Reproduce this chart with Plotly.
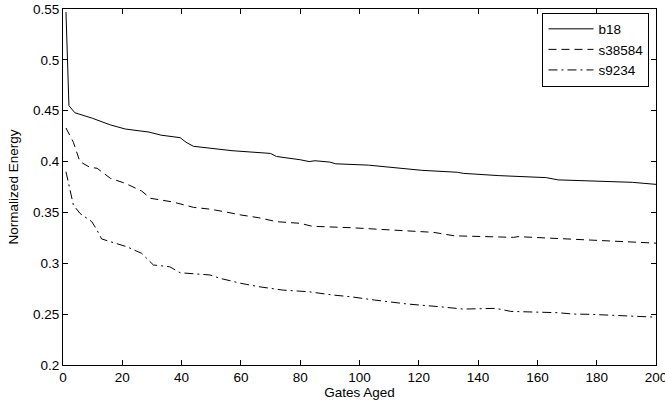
import plotly.graph_objects as go

# ---- data ----
b18_x = [1, 2, 4, 10, 16, 21, 29, 33, 39.5, 41.5, 44, 49, 57, 70, 72, 80, 83, 85, 90, 92,
         97, 103, 121, 133, 135, 147, 163, 167, 192, 200]
b18_y = [0.547, 0.455, 0.448, 0.4425, 0.436, 0.432, 0.429, 0.426, 0.4235, 0.419, 0.415, 0.4135,
         0.4107, 0.408, 0.405, 0.4018, 0.4, 0.4008, 0.3995, 0.3978, 0.397, 0.3965, 0.3914,
         0.3895, 0.3884, 0.3862, 0.3842, 0.382, 0.3796, 0.3776]

s38584_x = [1, 3.5, 5.7, 9, 11.5, 16, 21, 26.5, 29.5, 37, 44, 49.6, 55, 60, 66, 72, 80, 84,
            97, 121, 125, 132, 152, 153.5, 178, 197, 200]
s38584_y = [0.433, 0.419, 0.400, 0.3944, 0.3934, 0.3835, 0.3786, 0.3711, 0.3639, 0.3603,
            0.355, 0.3532, 0.3504, 0.3475, 0.3448, 0.3409, 0.3393, 0.3364, 0.335, 0.3311,
            0.3304, 0.327, 0.3255, 0.3262, 0.3229, 0.3202, 0.3198]

s9234_x = [1, 2.4, 3.5, 5.7, 9.7, 11.4, 13, 16, 21.5, 26.5, 28.2, 30.5, 36, 39.5, 49.6, 53,
           60, 66, 74, 83, 91, 97, 105, 116, 127, 135, 146, 151, 167, 172, 178, 189, 198, 200]
s9234_y = [0.39, 0.373, 0.3573, 0.3491, 0.341, 0.333, 0.324, 0.3212, 0.3163, 0.3098, 0.305,
           0.2983, 0.2966, 0.2907, 0.2885, 0.2852, 0.2803, 0.277, 0.2737, 0.272, 0.2688,
           0.2671, 0.2639, 0.26, 0.2573, 0.255, 0.2557, 0.2527, 0.2514, 0.2501, 0.2498,
           0.2482, 0.2475, 0.247]

x_ticks = [0, 20, 40, 60, 80, 100, 120, 140, 160, 180, 200]
y_ticks = [0.2, 0.25, 0.3, 0.35, 0.4, 0.45, 0.5, 0.55]
y_tick_labels = ["0.2", "0.25", "0.3", "0.35", "0.4", "0.45", "0.5", "0.55"]

FONT = "Liberation Sans, Arial, sans-serif"
FS = 13.5

fig = go.Figure()
fig.add_trace(go.Scatter(x=b18_x, y=b18_y, mode="lines", name="b18",
                         line=dict(color="black", width=1, dash="solid")))
fig.add_trace(go.Scatter(x=s38584_x, y=s38584_y, mode="lines", name="s38584",
                         line=dict(color="black", width=1, dash="8px,5px")))
fig.add_trace(go.Scatter(x=s9234_x, y=s9234_y, mode="lines", name="s9234",
                         line=dict(color="black", width=1, dash="9px,4px,2px,4px")))

axis_common = dict(showgrid=False, zeroline=False, showline=True, linecolor="black",
                   linewidth=1, mirror="ticks", ticks="inside", ticklen=5,
                   tickcolor="black", tickwidth=1,
                   ticklabeloverflow="allow",
                   tickfont=dict(family=FONT, size=FS, color="black"))

fig.update_xaxes(range=[0, 200], tickvals=x_ticks, automargin=False,
                 title=dict(text="Gates Aged", font=dict(family=FONT, size=FS, color="black"),
                            standoff=2),
                 **axis_common)
fig.update_yaxes(range=[0.2, 0.55], tickvals=y_ticks, ticktext=y_tick_labels, automargin=True,
                 title=dict(text="Normalized Energy", font=dict(family=FONT, size=FS, color="black"),
                            standoff=11),
                 **axis_common)

fig.update_layout(
    width=665, height=411,
    margin=dict(l=63, r=9, t=9, b=46, autoexpand=False),
    paper_bgcolor="white", plot_bgcolor="white",
    font=dict(family=FONT, size=FS, color="black"),
    legend=dict(x=0.989, y=0.99, xanchor="right", yanchor="top",
                bordercolor="black", borderwidth=1, bgcolor="white",
                font=dict(family=FONT, size=FS, color="black"),
                tracegroupgap=0, itemwidth=45, entrywidth=134),
    showlegend=True,
)

fig.write_html("out.html", config={"displayModeBar": False},
               post_script="document.body.style.margin='0';document.body.style.overflow='hidden';")
